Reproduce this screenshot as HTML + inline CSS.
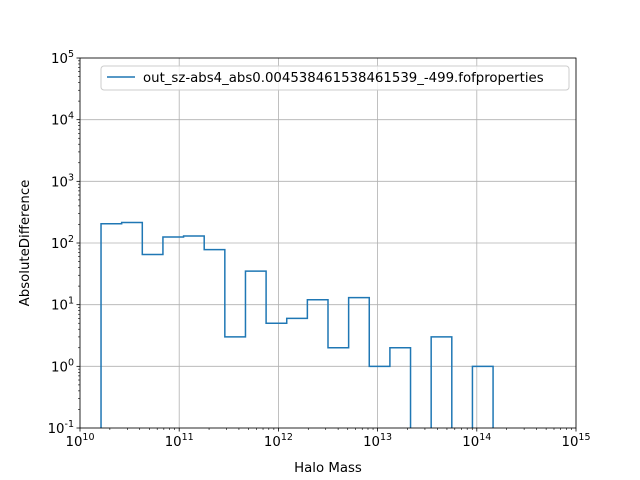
<!DOCTYPE html>
<html><head><meta charset="utf-8"><style>
html,body{margin:0;padding:0;background:#fff;overflow:hidden;width:640px;height:480px}
svg{display:block}
svg text{font-family:"DejaVu Sans","Liberation Sans",sans-serif;fill:#000}
</style></head><body>
<svg id="c" width="640" height="480" viewBox="0 0 640 480" xmlns="http://www.w3.org/2000/svg">
<defs><clipPath id="clip"><rect x="80" y="58" width="496" height="370"/></clipPath></defs>
<rect x="0" y="0" width="640" height="480" fill="#fff"/>
<g id="grid"></g>
<g id="series" clip-path="url(#clip)"></g>
<rect x="80" y="58" width="496" height="370" fill="none" stroke="#000" stroke-width="0.8"/>
<g id="ticks"></g>
<text x="328" y="472" font-size="13.3" text-anchor="middle">Halo Mass</text>
<text x="0" y="0" font-size="13.3" text-anchor="middle" transform="translate(29,243) rotate(-90)">AbsoluteDifference</text>
<g>
<rect x="101" y="66" width="468" height="24" rx="3" fill="#fff" fill-opacity="0.8" stroke="#ccc" stroke-width="1"/>
<line x1="107" y1="77" x2="135" y2="77" stroke="#1f77b4" stroke-width="1.5"/>
<text x="143" y="82" font-size="13.3">out_sz-abs4_abs0.004538461538461539_-499.fofproperties</text>
</g>
</svg>
<script>
const binStartLog = 10.212;
const binWidthLog = 0.208;
const counts = [205, 215, 65, 125, 130, 78, 3, 35, 5, 6, 12, 2, 13, 1, 2, 0, 3, 0, 1];
const xDecades = [10, 11, 12, 13, 14, 15];
const yDecades = [-1, 0, 1, 2, 3, 4, 5];

const NS = "http://www.w3.org/2000/svg";
const X0 = 80, X1 = 576, Y0 = 428, Y1 = 58;
function xs(lg){ return X0 + (lg - 10) / 5 * (X1 - X0); }
function ys(v){ const lg = v > 0 ? Math.log10(v) : -1.2; return Y0 - (lg + 1) / 6 * (Y0 - Y1); }
function mk(tag, attrs, parent){ const e = document.createElementNS(NS, tag); for (const k in attrs) e.setAttribute(k, attrs[k]); parent.appendChild(e); return e; }

const grid = document.getElementById('grid'), ticks = document.getElementById('ticks');
xDecades.forEach(d => {
  const x = xs(d);
  const g = mk('line', {x1:x, y1:Y1, x2:x, y2:Y0, stroke:'#b0b0b0', 'stroke-width':0.8}, grid);
  
  
  mk('line', {x1:x, y1:Y0, x2:x, y2:Y0+3.5, stroke:'#000', 'stroke-width':0.8}, ticks);
  for (let m = 2; m < 10 && d < 15; m++) {
    const xm = xs(d + Math.log10(m));
    mk('line', {x1:xm, y1:Y0, x2:xm, y2:Y0+2, stroke:'#000', 'stroke-width':0.6}, ticks);
  }
  const t = mk('text', {x:x, y:Y0+18, 'font-size':13.3, 'text-anchor':'middle'}, ticks);
  
  
  t.innerHTML = '10<tspan font-size="9.5" dy="-6">' + d + '</tspan>';
});
yDecades.forEach(d => {
  const y = ys(Math.pow(10, d));
  const g = mk('line', {x1:X0, y1:y, x2:X1, y2:y, stroke:'#b0b0b0', 'stroke-width':0.8}, grid);
  
  
  mk('line', {x1:X0-3.5, y1:y, x2:X0, y2:y, stroke:'#000', 'stroke-width':0.8}, ticks);
  for (let m = 2; m < 10 && d < 5; m++) {
    const ym = ys(m * Math.pow(10, d));
    mk('line', {x1:X0-2, y1:ym, x2:X0, y2:ym, stroke:'#000', 'stroke-width':0.6}, ticks);
  }
  const t = mk('text', {x:X0-6, y:y+5, 'font-size':13.3, 'text-anchor':'end'}, ticks);
  
  
  t.innerHTML = '10<tspan font-size="9.5" dy="-6">' + d + '</tspan>';
});

let d = 'M' + xs(binStartLog) + ',' + ys(0);
counts.forEach((c, i) => {
  const xa = xs(binStartLog + i * binWidthLog), xb = xs(binStartLog + (i + 1) * binWidthLog);
  d += ' L' + xa + ',' + ys(c) + ' L' + xb + ',' + ys(c);
});
d += ' L' + xs(binStartLog + counts.length * binWidthLog) + ',' + ys(0);
const p = mk('path', {d:d, fill:'none', stroke:'#1f77b4', 'stroke-width':1.5}, document.getElementById('series'));


</script>
</body></html>
